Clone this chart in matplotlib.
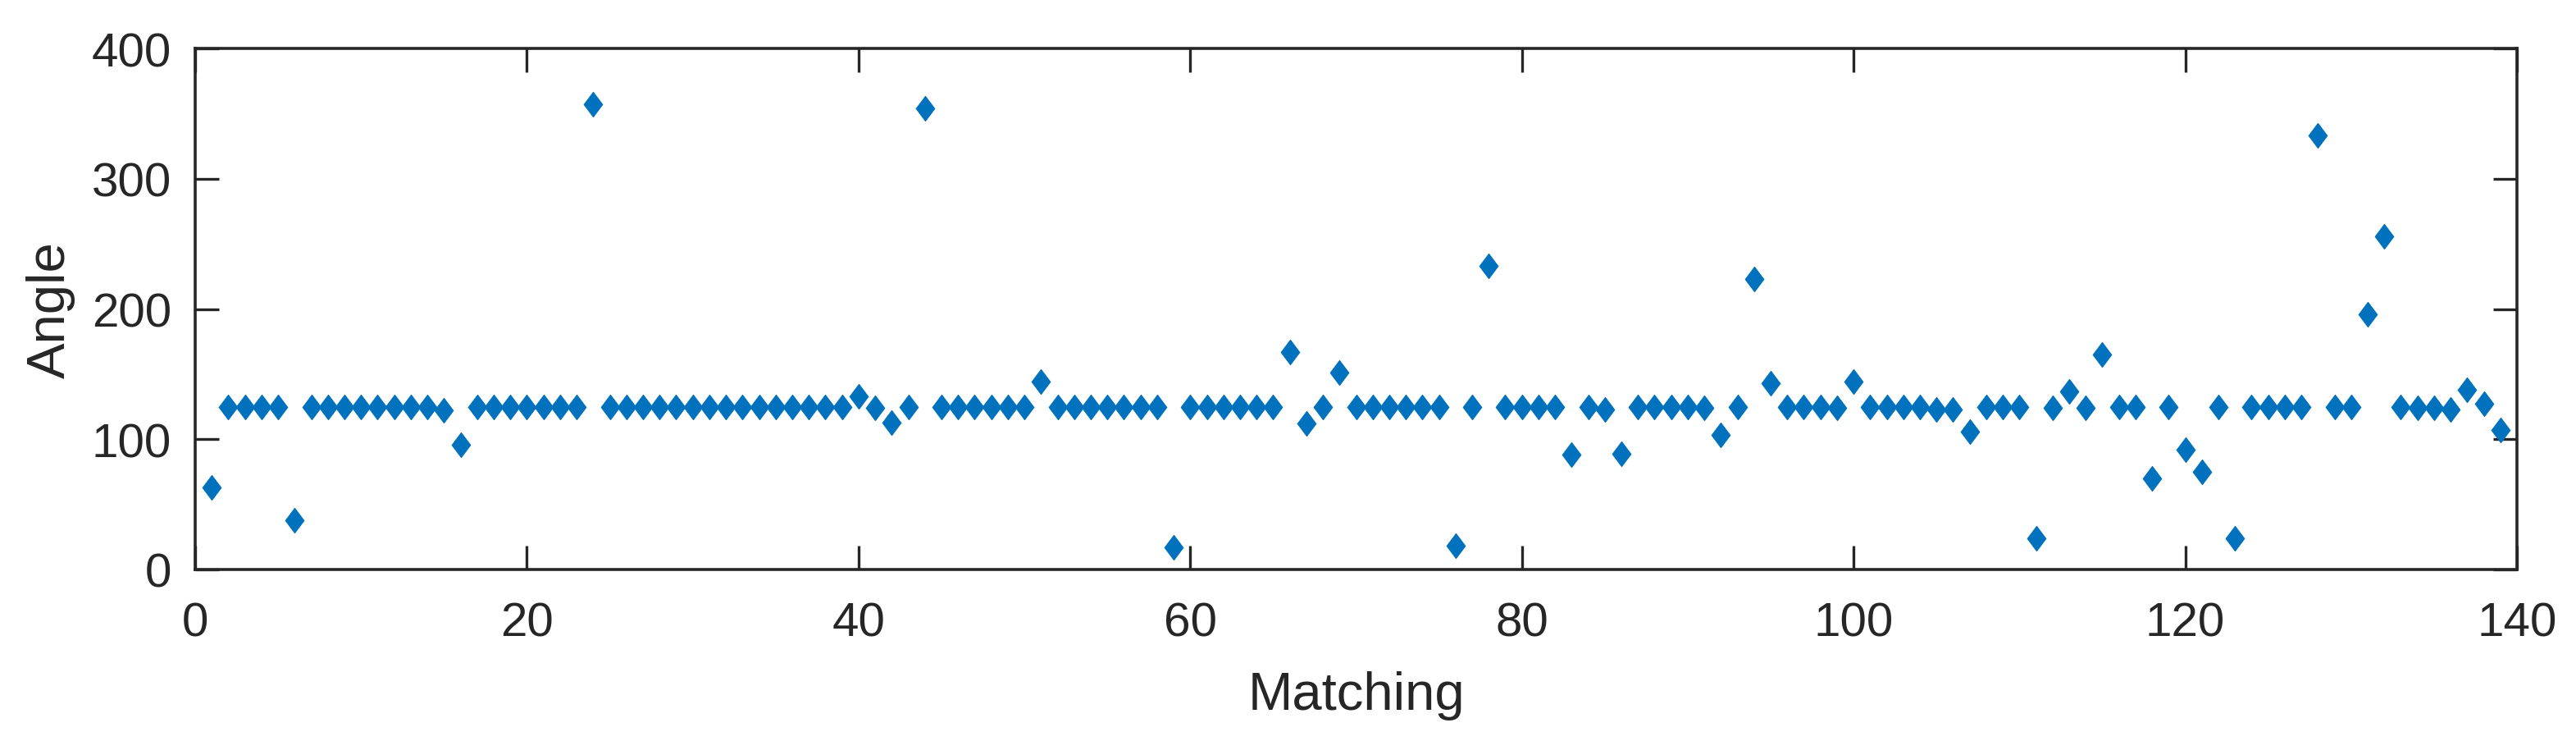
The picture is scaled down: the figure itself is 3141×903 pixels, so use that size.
"""Scatter of matching angles (diamond markers, MATLAB-like styling)."""
import numpy as np
import matplotlib
matplotlib.use("Agg")
import matplotlib.pyplot as plt

# matching index and measured angle
matching = list(range(1, 140))
angle = [
    63, 125, 125, 125, 125, 38, 125, 125, 125, 125,      # 1-10
    125, 125, 125, 125, 122, 96, 125, 125, 125, 125,     # 11-20
    125, 125, 125, 357, 125, 125, 125, 125, 125, 125,    # 21-30
    125, 125, 125, 125, 125, 125, 125, 125, 125, 133,    # 31-40
    124, 113, 125, 354, 125, 125, 125, 125, 125, 125,    # 41-50
    144, 125, 125, 125, 125, 125, 125, 125, 17, 125,     # 51-60
    125, 125, 125, 125, 125, 167, 112, 125, 151, 125,    # 61-70
    125, 125, 125, 125, 125, 18, 125, 233, 125, 125,     # 71-80
    125, 125, 88, 125, 123, 89, 125, 125, 125, 125,      # 81-90
    124, 103, 125, 223, 143, 125, 125, 125, 124, 144,    # 91-100
    125, 125, 125, 125, 123, 123, 106, 125, 125, 125,    # 101-110
    24, 124, 137, 124, 165, 125, 125, 70, 125, 92,       # 111-120
    75, 125, 24, 125, 125, 125, 125, 333, 125, 125,      # 121-130
    196, 256, 125, 124, 124, 123, 138, 127, 107,         # 131-139
]
x_ticks = [0, 20, 40, 60, 80, 100, 120, 140]
y_ticks = [0, 100, 200, 300, 400]

AX_COL = "#262626"
plt.rcParams["font.family"] = ["Liberation Sans", "DejaVu Sans"]

fig = plt.figure(figsize=(31.41, 9.04), dpi=100)
ax = fig.add_axes([238 / 3141, 209 / 904, 2831 / 3141, 635 / 904])

# MATLAB's diamond is a bit taller than wide
diamond = [(0, 1), (0.75, 0), (0, -1), (-0.75, 0), (0, 1)]
ax.scatter(matching, angle, marker=diamond, s=470, color="#0072BD",
           edgecolors="#0072BD", linewidths=0.8, zorder=3)

ax.set_xlim(0, 140)
ax.set_ylim(0, 400)
ax.set_xticks(x_ticks)
ax.set_yticks(y_ticks)
ax.tick_params(direction="in", length=21, width=2.4, colors=AX_COL,
               labelsize=42, top=True, right=True)
ax.tick_params(axis="x", pad=28)
ax.tick_params(axis="y", pad=21)
for sp in ax.spines.values():
    sp.set_linewidth(2.6)
    sp.set_color(AX_COL)

ax.set_xlabel("Matching", fontsize=47, color=AX_COL, labelpad=22)
ax.set_ylabel("Angle", fontsize=47, color=AX_COL, labelpad=14)

fig.savefig("out.png", dpi=100)
